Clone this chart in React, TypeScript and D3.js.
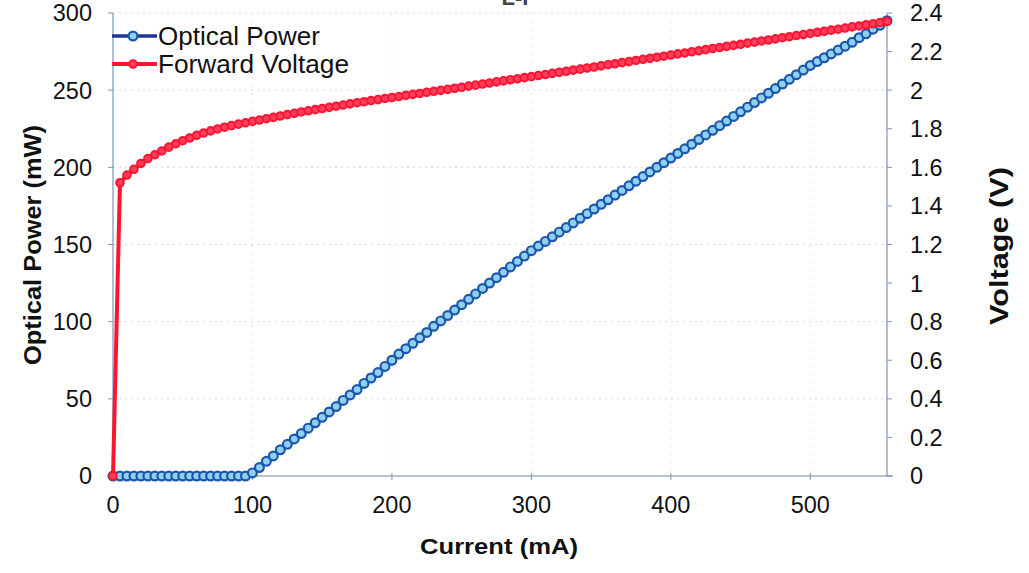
import React from "react";
import * as d3 from "d3";

const current = [0,5,10,15,20,25,30,35,40,45,50,55,60,65,70,75,80,85,90,95,100,105,110,115,120,125,130,135,140,145,150,155,160,165,170,175,180,185,190,195,200,205,210,215,220,225,230,235,240,245,250,255,260,265,270,275,280,285,290,295,300,305,310,315,320,325,330,335,340,345,350,355,360,365,370,375,380,385,390,395,400,405,410,415,420,425,430,435,440,445,450,455,460,465,470,475,480,485,490,495,500,505,510,515,520,525,530,535,540,545,550,555];

const opticalPower = [0,0,0,0,0,0,0,0,0,0,0,0,0,0,0,0,0,0,0,0,
  2,5.5,9.5,13,17,20.5,24,27.5,31,34.5,38,41.5,45,49,52.5,56,60,63.5,67,71,
  75,79,82.5,86,89.5,93,97,100.5,104,107.5,111,114.5,118,121.5,125,128.5,132,135.5,139,142.5,
  146,149,152,155,158,161,164,167,170,173,176,179,182,185,188,191,194,197,200,203,
  206,209,212,215,218,221,224,227,230,233,236,239,242,245,248,251,254,257,260,263,
  266,268.5,271,273.5,276,278.5,281,284,286.5,289.5,292,295];

const forwardVoltage = [0,1.52,1.56,1.59,1.62,1.645,1.665,1.685,1.705,1.722,1.738,1.752,1.766,1.778,1.789,1.799,1.808,1.816,1.824,1.831,
  1.838,1.845,1.852,1.859,1.866,1.873,1.88,1.887,1.893,1.899,1.905,1.911,1.917,1.923,1.929,1.935,1.94,1.946,1.951,1.957,
  1.962,1.967,1.973,1.978,1.983,1.989,1.994,1.999,2.004,2.01,2.015,2.021,2.026,2.032,2.037,2.043,2.048,2.054,2.059,2.065,
  2.07,2.076,2.081,2.087,2.092,2.098,2.104,2.109,2.115,2.12,2.126,2.132,2.137,2.143,2.148,2.154,2.16,2.165,2.171,2.176,
  2.182,2.188,2.193,2.199,2.204,2.21,2.216,2.221,2.227,2.232,2.238,2.244,2.249,2.255,2.26,2.266,2.272,2.277,2.283,2.288,
  2.294,2.3,2.305,2.311,2.316,2.322,2.328,2.333,2.339,2.344,2.35,2.356];

const xTicks = [0,100,200,300,400,500];
const leftTicks = [0,50,100,150,200,250,300];
const rightTicks = [0,0.2,0.4,0.6,0.8,1,1.2,1.4,1.6,1.8,2,2.2,2.4];
const seriesNames = ["Optical Power", "Forward Voltage"];
const titleText = "L-I";

const W = 1029, H = 573;
const X0 = 113, X1 = 887, Y0 = 476, Y1 = 13;
const FONT = "'Liberation Sans', Arial, sans-serif";

export default function App() {
  const x = d3.scaleLinear().domain([0, 555]).range([X0, X1]);
  const yL = d3.scaleLinear().domain([0, 300]).range([Y0, Y1]);
  const yR = d3.scaleLinear().domain([0, 2.4]).range([Y0, Y1]);

  const pts = current.map((c, i) => ({ c, p: opticalPower[i], v: forwardVoltage[i] }));
  const lineP = d3.line<any>().x(d => x(d.c)).y(d => yL(d.p));
  const lineV = d3.line<any>().x(d => x(d.c)).y(d => yR(d.v));

  const blueLine = "#1a3596";
  const blueStroke = "#1d56ad";
  const blueFill = "#8fd0ee";
  const red = "#ff1530";
  const redFill = "#ff3d5e";

  return (
    <svg width={W} height={H} style={{ position: "absolute", left: 0, top: 0, background: "#fff" }} fontFamily={FONT}>
      <rect x={0} y={0} width={W} height={H} fill="#fff" />
      <text x={515} y={5} textAnchor="middle" fontSize={22} fontWeight="bold" fill="#444">{titleText}</text>
      {/* gridlines */}
      {leftTicks.filter(t => t > 0).map(t => (
        <line key={"gh" + t} x1={X0} x2={X1} y1={yL(t)} y2={yL(t)} stroke="#d4dae6" strokeWidth={1} strokeDasharray="2,4" />
      ))}
      {xTicks.filter(t => t > 0).map(t => (
        <line key={"gv" + t} x1={x(t)} x2={x(t)} y1={Y1} y2={Y0} stroke="#e2e6ee" strokeWidth={1} strokeDasharray="2,6" />
      ))}
      {/* axes */}
      <line x1={X0} x2={X0} y1={Y1} y2={Y0} stroke="#7c96b8" strokeWidth={1.2} />
      <line x1={X1} x2={X1} y1={Y1} y2={Y0} stroke="#7c96b8" strokeWidth={1.2} />
      <line x1={X0} x2={X1 + 6} y1={Y0} y2={Y0} stroke="#6f86a6" strokeWidth={1.2} />
      {leftTicks.map(t => (
        <g key={"lt" + t}>
          <line x1={X0 - 5} x2={X0} y1={yL(t)} y2={yL(t)} stroke="#7c96b8" />
          <text x={92} y={yL(t)} dy="0.36em" textAnchor="end" fontSize={23.5} fill="#111">{t}</text>
        </g>
      ))}
      {rightTicks.map(t => (
        <g key={"rt" + t}>
          <line x1={X1} x2={X1 + 5} y1={yR(t)} y2={yR(t)} stroke="#7c96b8" />
          <text x={910} y={yR(t)} dy="0.36em" textAnchor="start" fontSize={23.5} fill="#111">{d3.format("~g")(t)}</text>
        </g>
      ))}
      {xTicks.map(t => (
        <g key={"xt" + t}>
          <line x1={x(t)} x2={x(t)} y1={Y0 - 3} y2={Y0 + 4} stroke="#7c96b8" />
          <text x={x(t)} y={505} dy="0.36em" textAnchor="middle" fontSize={23.5} fill="#111">{t}</text>
        </g>
      ))}
      {/* axis titles */}
      <text x={420} y={554} fontSize={22} fontWeight="bold" fill="#111" textLength={158} lengthAdjust="spacingAndGlyphs">Current (mA)</text>
      <text transform={`translate(41,365) rotate(-90)`} fontSize={24} fontWeight="bold" fill="#111" textLength={240} lengthAdjust="spacingAndGlyphs">Optical Power (mW)</text>
      <text transform={`translate(1008,325) rotate(-90)`} fontSize={25} fontWeight="bold" fill="#111" textLength={158} lengthAdjust="spacingAndGlyphs">Voltage (V)</text>
      {/* optical power series */}
      <path d={lineP(pts) || ""} fill="none" stroke={blueLine} strokeWidth={3.5} />
      {pts.map((d, i) => (
        <circle key={"bp" + i} cx={x(d.c)} cy={yL(d.p)} r={4.4} fill={blueFill} stroke={blueStroke} strokeWidth={2.2} />
      ))}
      {/* voltage series */}
      <path d={lineV(pts) || ""} fill="none" stroke={red} strokeWidth={4} />
      {pts.map((d, i) => (
        <circle key={"rp" + i} cx={x(d.c)} cy={yR(d.v)} r={3.8} fill={redFill} stroke={red} strokeWidth={2} />
      ))}
      {/* legend */}
      <g>
        <line x1={112} x2={157} y1={36} y2={36} stroke={blueLine} strokeWidth={3.5} />
        <circle cx={133} cy={36} r={4.4} fill={blueFill} stroke={blueStroke} strokeWidth={2.2} />
        <text x={158} y={36} dy="0.36em" fontSize={25} fill="#111" textLength={162} lengthAdjust="spacingAndGlyphs">{seriesNames[0]}</text>
        <line x1={112} x2={157} y1={64} y2={64} stroke={red} strokeWidth={4} />
        <circle cx={133} cy={64} r={3.8} fill={redFill} stroke={red} strokeWidth={2} />
        <text x={158} y={64} dy="0.36em" fontSize={25} fill="#111" textLength={191} lengthAdjust="spacingAndGlyphs">{seriesNames[1]}</text>
      </g>
    </svg>
  );
}
